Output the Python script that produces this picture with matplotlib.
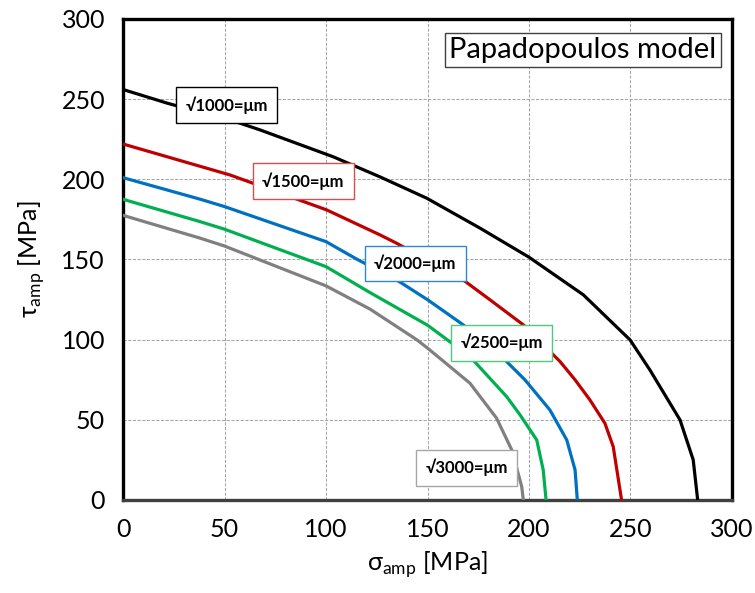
import matplotlib.pyplot as plt

plt.rcParams['font.family'] = ['Lato', 'DejaVu Sans']
plt.rcParams['mathtext.fontset'] = 'custom'
plt.rcParams['mathtext.rm'] = 'Lato'

# curves: sigma_amp [MPa] vs tau_amp [MPa]
sig_1000 = [0, 21.7, 57.6, 67.5, 103.6, 126.6, 149.6, 175.9, 200, 226.8, 249.8, 259.6, 274.4, 280.9, 283.1]
tau_1000 = [256, 247.5, 235, 230.8, 214, 201.5, 188.2, 169.5, 151.4, 127.9, 99.8, 81, 49.9, 25, 0]

sig_1500 = [0, 52.7, 100.3, 126.6, 134.8, 167.6, 180.8, 197.2, 215.3, 222.7, 230, 237.4, 241.5, 245.6]
tau_1500 = [222, 202.7, 180.9, 165.3, 160.1, 137.2, 124.8, 109.2, 86.3, 74.9, 62.4, 47.8, 33.2, 0]

sig_2000 = [0, 37.9, 49.9, 100, 115.1, 134.8, 150.1, 167.6, 187.3, 198, 210.3, 218.6, 222.7, 223.8]
tau_2000 = [201, 187.6, 183, 161.1, 150.2, 137.2, 124.8, 109.2, 88.4, 74.9, 56.1, 37.4, 18.7, 0]

sig_2500 = [0, 37.9, 49.9, 100, 121.7, 150, 170.9, 189, 195.6, 203.8, 207, 208.4]
tau_2500 = [187.5, 173.6, 168.9, 145.5, 129.3, 109, 89.4, 64.4, 53, 37.4, 18.7, 0]

sig_3000 = [0, 37.9, 49.9, 100, 121.7, 144.6, 150.1, 170.9, 184, 191.5, 196.4, 197.2]
tau_3000 = [177.5, 163.3, 158.4, 133.5, 119, 100, 94.6, 72.8, 51, 31.2, 8.3, 0]

labels = ['√1000=μm', '√1500=μm', '√2000=μm', '√2500=μm', '√3000=μm']
line_colors = ['black', '#C00000', '#0070C0', '#00B050', '#808080']
box_colors = ['black', '#D45050', '#2E86D0', '#50C880', '#A6A6A6']
label_x = [51, 88.7, 144, 186.5, 169.3]
label_y = [246.4, 198.7, 147.5, 98.1, 20.1]

sigmas = [sig_1000, sig_1500, sig_2000, sig_2500, sig_3000]
taus = [tau_1000, tau_1500, tau_2000, tau_2500, tau_3000]

fig = plt.figure(figsize=(7.55, 5.93), dpi=100)
ax = fig.add_axes([0.163, 0.157, 0.8065, 0.811])

for i in range(len(labels)):
    ax.plot(sigmas[i], taus[i], color=line_colors[i], lw=2.3, zorder=3,
            solid_joinstyle='round')
    ax.text(label_x[i], label_y[i], labels[i], ha='center', va='center',
            fontsize=12, fontweight='bold', zorder=5,
            bbox=dict(boxstyle='square,pad=0.55', fc='white', ec=box_colors[i], lw=1.0))

ax.text(226.4, 280.7, 'Papadopoulos model', ha='center', va='center', fontsize=21,
        zorder=5, bbox=dict(boxstyle='square,pad=0.15', fc='white', ec='#404040', lw=1.0))

ax.set_xlim(0, 300)
ax.set_ylim(0, 300)
ax.set_xticks(range(0, 301, 50))
ax.set_yticks(range(0, 301, 50))
ax.tick_params(length=0, labelsize=18, pad=13)
ax.grid(True, color='#A6A6A6', ls=(0, (3, 1.5)), lw=0.75)
ax.set_axisbelow(True)
for sp in ax.spines.values():
    sp.set_linewidth(2.4)
    sp.set_color('black')
ax.spines['bottom'].set_color('#404040')

ax.set_xlabel(r'σ$_{\mathrm{amp}}$ [MPa]', fontsize=18, labelpad=6)
ax.set_ylabel(r'τ$_{\mathrm{amp}}$ [MPa]', fontsize=18, labelpad=10)

fig.savefig('out.png', dpi=100)
